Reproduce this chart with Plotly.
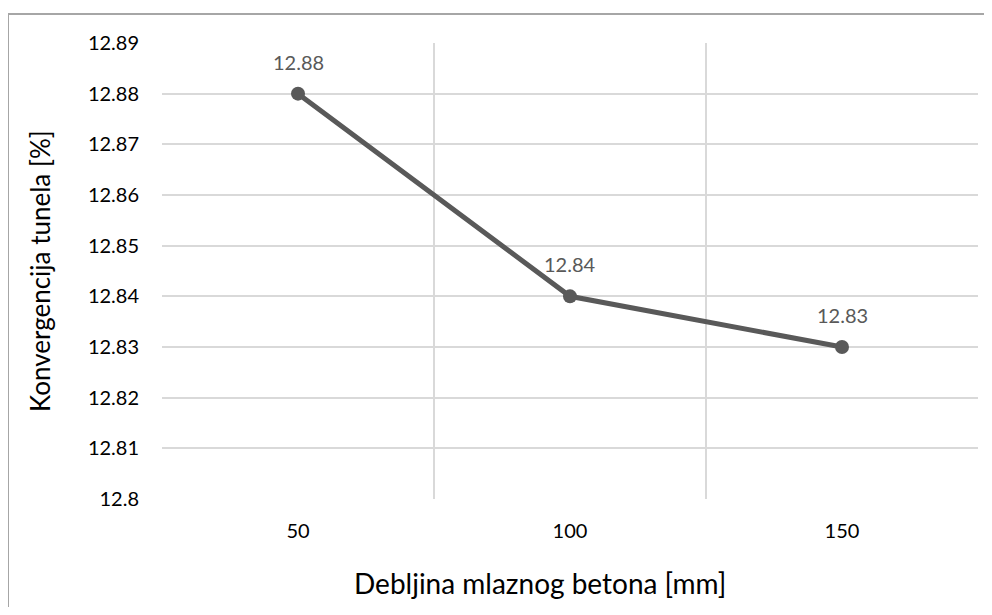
import plotly.graph_objects as go

thickness_mm = [50, 100, 150]
convergence_pct = [12.88, 12.84, 12.83]
label_text = ["12.88", "12.84", "12.83"]
y_ticks = [12.80, 12.81, 12.82, 12.83, 12.84, 12.85, 12.86, 12.87, 12.88, 12.89]
y_tick_text = ["12.8", "12.81", "12.82", "12.83", "12.84", "12.85", "12.86", "12.87", "12.88", "12.89"]
x_boundaries = [25, 75, 125, 175]

LINE = "#595959"
GRID = "#d9d9d9"
FONT = "Lato, Open Sans, sans-serif"

# the page puts the figure 8px in from the top-left corner
OFF = 8
W, H = 976, 599
L, R, T, B = 162 - OFF, 14 - OFF, 43 - OFF, 116 - OFF
pw, ph = W - L - R, H - T - B


def px_x(px):
    return (px - OFF - L) / pw


def px_y(py):
    return (H - B - (py - OFF)) / ph


fig = go.Figure()
fig.add_trace(go.Scatter(
    x=thickness_mm,
    y=convergence_pct,
    mode="lines+markers",
    line=dict(color=LINE, width=5),
    marker=dict(size=14, color=LINE),
    hoverinfo="skip",
    showlegend=False,
))

# data labels above the points
for xv, yv, txt in zip(thickness_mm, convergence_pct, label_text):
    fig.add_annotation(
        x=xv, y=yv, text=txt, showarrow=False, yshift=32,
        xanchor="center", yanchor="middle",
        font=dict(family=FONT, size=20, color=LINE),
    )

# axis titles
fig.add_annotation(
    xref="paper", yref="paper", x=px_x(540), y=px_y(583),
    xanchor="center", yanchor="middle",
    text="Debljina mlaznog betona [mm]", showarrow=False,
    font=dict(family=FONT, size=28, color="#000000"),
)
fig.add_annotation(
    xref="paper", yref="paper", x=px_x(40), y=px_y(271),
    xanchor="center", yanchor="middle",
    text="Konvergencija tunela [%]", showarrow=False, textangle=-90,
    font=dict(family=FONT, size=26, color="#000000"),
)

# outer chart border (top and left edges visible)
fig.add_shape(type="line", xref="paper", yref="paper",
              x0=px_x(8), x1=px_x(1000), y0=px_y(14), y1=px_y(14),
              line=dict(color="#a6a6a6", width=2))
fig.add_shape(type="line", xref="paper", yref="paper",
              x0=px_x(8), x1=px_x(8), y0=px_y(14), y1=px_y(620),
              line=dict(color="#a6a6a6", width=2))

fig.update_xaxes(
    range=[25, 175],
    tickvals=thickness_mm,
    showgrid=False,
    zeroline=False,
    showline=False,
    ticks="",
    ticklabelstandoff=18,
    tickfont=dict(family=FONT, size=20, color="#000000"),
    minor=dict(tickvals=x_boundaries, showgrid=True, gridcolor=GRID, gridwidth=1.5, ticks=""),
)
fig.update_yaxes(
    range=[12.8, 12.89],
    tickvals=y_ticks,
    ticktext=y_tick_text,
    showgrid=True,
    gridcolor=GRID,
    gridwidth=1.5,
    zeroline=False,
    showline=False,
    ticks="",
    ticklabelstandoff=22,
    tickfont=dict(family=FONT, size=20, color="#000000"),
)

fig.update_layout(
    width=W,
    height=H,
    margin=dict(l=L, r=R, t=T, b=B),
    paper_bgcolor="white",
    plot_bgcolor="white",
)

fig.write_html("out.html")
